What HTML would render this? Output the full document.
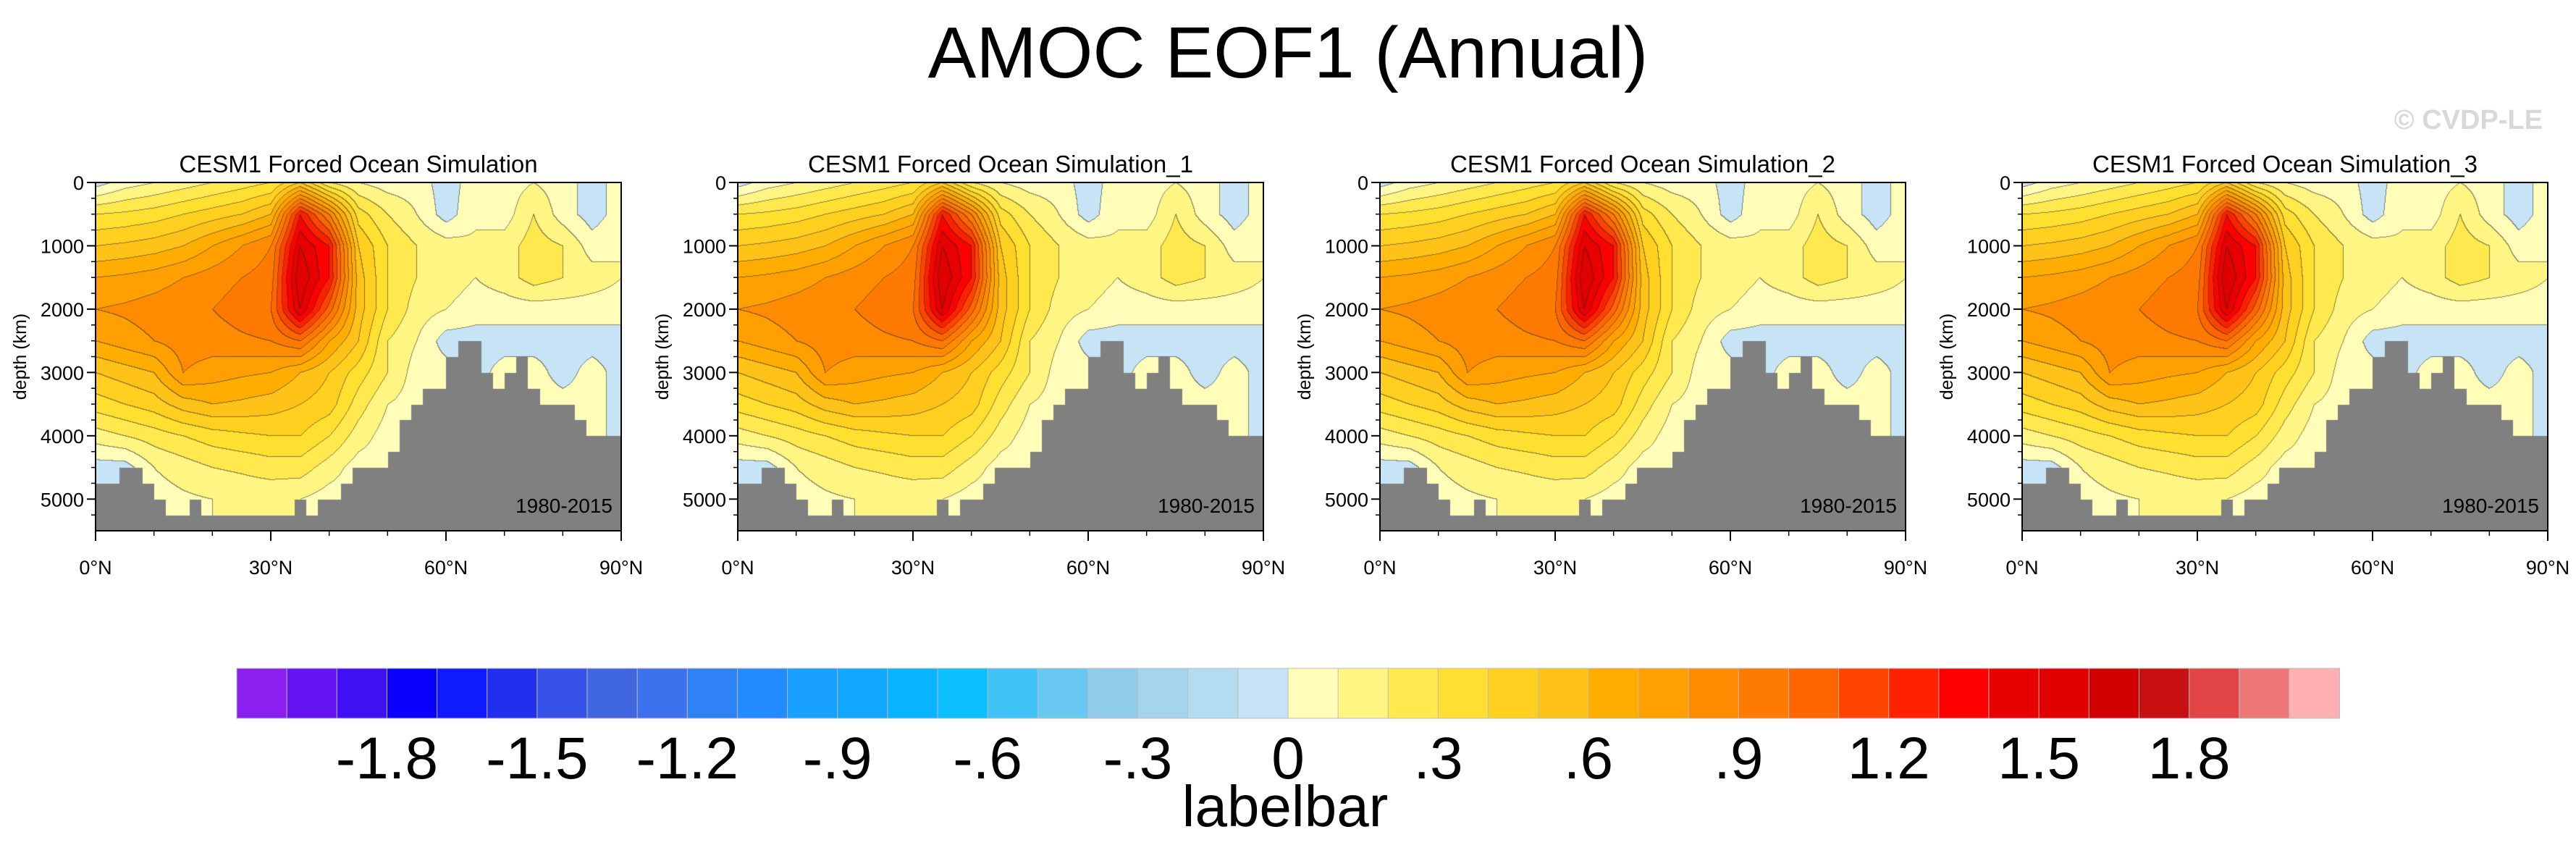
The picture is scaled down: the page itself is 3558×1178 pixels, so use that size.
<!DOCTYPE html>
<html><head><meta charset="utf-8">
<style>
html,body{margin:0;padding:0;background:#fff;}
#root{position:relative;width:3558px;height:1178px;overflow:hidden;background:#fff;font-family:"Liberation Sans",sans-serif;}
canvas{position:absolute;}
svg{position:absolute;left:0;top:0;}
</style></head>
<body>
<div id="root">
<svg id="svg" width="3558" height="1178"></svg>
</div>
<script>
// ---- data ----
const lats = [0,5,10,15,20,25,30,35,40,45,50,55,60,65,70,75,80,85,90];
const depths = [0,500,1000,1500,2000,2500,3000,3500,4000,4500,5000,5500];
const row0    = [-0.05,0.05,0.1,0.15,0.2,0.25,0.3,0.5,0.2,0.1,0.05,0.05,-0.05,0.05,0.05,0.1,0.05,-0.05,0.05];
const row500  = [0.3,0.32,0.35,0.4,0.45,0.5,0.6,1.3,0.9,0.35,0.2,0.1,-0.05,0.08,0.05,0.2,0.05,-0.05,0.05];
const row1000 = [0.5,0.52,0.55,0.6,0.7,0.8,0.9,1.5,1.3,0.5,0.3,0.2,0.15,0.12,0.15,0.25,0.2,0.05,0.1];
const row1500 = [0.7,0.72,0.75,0.8,0.85,0.9,0.95,1.6,1.3,0.55,0.3,0.2,0.15,0.1,0.15,0.25,0.2,0.15,0.1];
const row2000 = [0.8,0.82,0.85,0.88,0.9,0.95,1.0,1.5,1.05,0.55,0.3,0.15,0.1,0.05,0.05,0.05,0.05,0.05,0.05];
const row2500 = [0.7,0.75,0.8,0.85,0.85,0.88,0.9,1.0,0.7,0.5,0.2,0.1,-0.05,-0.05,-0.05,-0.05,-0.05,-0.05,-0.05];
const row3000 = [0.5,0.55,0.6,0.8,0.75,0.72,0.7,0.6,0.5,0.35,0.2,0.05,0.05,-0.05,0.05,0.05,-0.05,0.05,-0.05];
const row3500 = [0.35,0.4,0.45,0.55,0.6,0.58,0.55,0.5,0.45,0.25,0.1,0.05,0.05,0.05,0.05,0.05,0.05,0.05,-0.05];
const row4000 = [0.15,0.2,0.25,0.3,0.35,0.38,0.4,0.4,0.3,0.15,0.05,0.05,0.05,0.05,0.05,0.05,0.05,0.05,-0.05];
const row4500 = [-0.05,-0.05,0.1,0.15,0.2,0.22,0.25,0.25,0.15,0.05,0.05,-0.05,0.05,0.05,0.05,0.05,0.05,0.05,-0.05];
const row5000 = [-0.05,-0.05,0.05,0.08,0.1,0.12,0.12,0.1,0.05,0.05,-0.05,-0.05,0.05,0.05,0.05,0.05,0.05,0.05,-0.05];
const row5500 = [-0.05,-0.05,0.05,0.08,0.1,0.12,0.12,0.1,0.05,0.05,-0.05,-0.05,0.05,0.05,0.05,0.05,0.05,0.05,-0.05];
const bathyLat = [0,2,4,6,8,10,12,14,16,18,20,22,24,26,28,30,32,34,36,38,40,42,44,46,48,50,52,54,56,58,60,62,64,66,68,70,72,74,76,78,80,82,84,86,88];
const bathyDepth = [4750,4750,4500,4500,4750,5000,5250,5250,5000,5250,5250,5250,5250,5250,5250,5250,5250,5000,5250,5000,5000,4750,4500,4500,4500,4250,3750,3500,3250,3250,2750,2500,2500,3000,3250,3000,2750,3250,3500,3500,3500,3750,4000,4000,4000];
const panelTitles = ["CESM1 Forced Ocean Simulation","CESM1 Forced Ocean Simulation_1","CESM1 Forced Ocean Simulation_2","CESM1 Forced Ocean Simulation_3"];
const yTicks = [0,1000,2000,3000,4000,5000];
const xTicks = [0,30,60,90];
const xTickLabels = ["0°N","30°N","60°N","90°N"];
const cbLabels = [-1.8,-1.5,-1.2,-0.9,-0.6,-0.3,0,0.3,0.6,0.9,1.2,1.5,1.8];
const palette = ["#8a1ff0","#6414f0","#4010f5","#0a00ff","#0f1aff","#2030ee","#3652e8","#4066e0","#3d72ee","#2e82f5","#228bff","#18a0ff","#10a8ff","#08b4ff","#0cc0ff","#40c4f5","#68c8f2","#90cdeb","#a5d5ee","#b4dcf0","#c6e4f5",
"#fffdb8","#fff582","#ffe94f","#ffe030","#ffd020","#ffc218","#ffae00","#ffa000","#ff8c00","#ff7a00","#ff6600","#ff4400","#ff2000","#ff0000","#e80000","#e00000","#d00000","#c81010","#e04444","#ee7777","#ffb0b0"];
const field = [row0,row500,row1000,row1500,row2000,row2500,row3000,row3500,row4000,row4500,row5000,row5500];

// ---- layout ----
const panelLeft = [132,1019,1906,2793];
const PT = 252, PW = 726, PH = 481, DMAX = 5500;
const svg = document.getElementById('svg');
const NS = 'http://www.w3.org/2000/svg';
function mk(tag, attrs, parent){const e=document.createElementNS(NS,tag);for(const k in attrs)e.setAttribute(k,attrs[k]);(parent||svg).appendChild(e);return e;}
function hexRGB(h){return [parseInt(h.slice(1,3),16),parseInt(h.slice(3,5),16),parseInt(h.slice(5,7),16)];}
const palRGB = palette.map(hexRGB);
function levelIndex(v){let i=Math.floor((v+2.1)/0.1+1e-9);return Math.max(0,Math.min(palette.length-1,i));}
function sample(lat,d){
  let fi=lat/5, fj=d/500;
  let i0=Math.max(0,Math.min(lats.length-2,Math.floor(fi))), j0=Math.max(0,Math.min(depths.length-2,Math.floor(fj)));
  let tx=fi-i0, ty=fj-j0;
  const a=field[j0][i0],b=field[j0][i0+1],c=field[j0+1][i0],e=field[j0+1][i0+1];
  return a*(1-tx)*(1-ty)+b*tx*(1-ty)+c*(1-tx)*ty+e*tx*ty;
}
function bathyAt(lat){let k=Math.min(bathyDepth.length-1,Math.floor(lat/2));return bathyDepth[k];}

mk('text',{x:1779,y:107,'font-size':100,'text-anchor':'middle',fill:'#000',}).textContent='AMOC EOF1 (Annual)';
mk('text',{x:3512,y:178,'font-size':38,'font-weight':'bold','text-anchor':'end',fill:'#d8d8d8',}).textContent='© CVDP-LE';

panelLeft.forEach((L,p)=>{
  const c=document.createElement('canvas');
  c.width=PW;c.height=PH;c.style.left=L+'px';c.style.top=PT+'px';
  
  
  document.getElementById('root').insertBefore(c,svg);
  const ctx=c.getContext('2d');
  const img=ctx.createImageData(PW,PH);
  const idx=new Int16Array(PW*PH);
  for(let y=0;y<PH;y++){const d=y/PH*DMAX;
    for(let x=0;x<PW;x++){const lat=x/PW*90;idx[y*PW+x]=levelIndex(sample(lat,d));}}
  for(let y=0;y<PH;y++){const d=y/PH*DMAX;
    for(let x=0;x<PW;x++){const lat=x/PW*90;const k=y*PW+x;let col;
      if(d>=bathyAt(lat)) col=[128,128,128];
      else{col=palRGB[idx[k]].slice();
        const r=x<PW-1?idx[k+1]:idx[k], b=y<PH-1?idx[k+PW]:idx[k];
        if(r!==idx[k]||b!==idx[k]){col=col.map(v=>Math.round(v*0.45+40*0.55));}}
      img.data[k*4]=col[0];img.data[k*4+1]=col[1];img.data[k*4+2]=col[2];img.data[k*4+3]=255;}}
  ctx.putImageData(img,0,0);

  const g=mk('g',{});
  mk('text',{x:L+PW/2,y:238,'font-size':33,'text-anchor':'middle',},g).textContent=panelTitles[p];
  mk('rect',{x:L,y:PT,width:PW,height:PH,fill:'none',stroke:'#000','stroke-width':2,},g);
  yTicks.forEach(t=>{const y=PT+t/DMAX*PH;
    mk('line',{x1:L-12,x2:L,y1:y,y2:y,stroke:'#000','stroke-width':2,},g);
    mk('text',{x:L-16,y:y+10,'font-size':27,'text-anchor':'end',},g).textContent=String(t);});
  for(let t=250;t<DMAX;t+=250){if(t%1000===0)continue;const y=PT+t/DMAX*PH;
    mk('line',{x1:L-6,x2:L,y1:y,y2:y,stroke:'#000','stroke-width':1.5,},g);}
  xTicks.forEach((t,i)=>{const x=L+t/90*PW;
    mk('line',{x1:x,x2:x,y1:PT+PH,y2:PT+PH+14,stroke:'#000','stroke-width':2,},g);
    mk('text',{x:x,y:793,'font-size':27,'text-anchor':'middle',},g).textContent=xTickLabels[i];});
  for(let t=10;t<90;t+=10){if(t%30===0)continue;const x=L+t/90*PW;
    mk('line',{x1:x,x2:x,y1:PT+PH,y2:PT+PH+7,stroke:'#000','stroke-width':1.5,},g);}
  mk('text',{x:L-96,y:PT+PH/2,'font-size':25,'text-anchor':'middle',transform:`rotate(-90 ${L-96} ${PT+PH/2})`,},g).textContent='depth (km)';
  mk('text',{x:L+PW-12,y:708,'font-size':28,'text-anchor':'end',},g).textContent='1980-2015';
});

// colorbar
const CBX=327, CBY=923, CBW=2904, CBH=69, BW=CBW/palette.length;
const cb=mk('g',{});
palette.forEach((col,i)=>{
  mk('rect',{x:CBX+i*BW,y:CBY,width:BW+0.5,height:CBH,fill:col,stroke:'#bbb','stroke-width':1,},cb);});
cbLabels.forEach(v=>{const x=CBX+(v+2.1)/0.1*BW;
  let s=v===0?'0':(Math.abs(v)<1?(v<0?'-':'')+String(Math.abs(v).toFixed(1)).replace('0.','.'):v.toFixed(1));
  mk('text',{x:x,y:1075,'font-size':82,'text-anchor':'middle',},cb).textContent=s;});
mk('text',{x:1775,y:1141,'font-size':80,'text-anchor':'middle',}).textContent='labelbar';
</script>
</body></html>
